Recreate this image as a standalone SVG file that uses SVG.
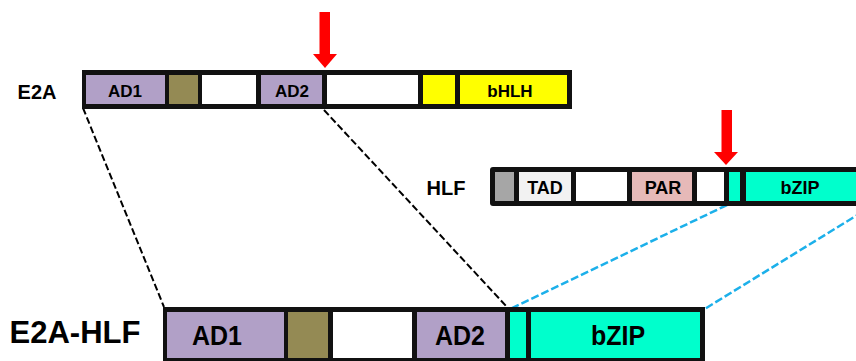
<svg xmlns="http://www.w3.org/2000/svg" width="856" height="361" viewBox="0 0 856 361">
<style>
.bar{fill:#111}
.pur{fill:#b1a0c7}.olv{fill:#948a54}.wht{fill:#fff}.yel{fill:#ffff00}
.gry{fill:#a6a6a6}.lgr{fill:#f2f2f2}.pnk{fill:#e6b9b8}.cyn{fill:#00ffcc}
text{font-family:"Liberation Sans",Arial,sans-serif;font-weight:bold;fill:#000;text-anchor:middle}
.t17{font-size:17px}.t18{font-size:18px}.t20{font-size:20px}.t25{font-size:25px}
.dk{stroke:#000;stroke-width:2;stroke-dasharray:7 3;fill:none}
.bl{stroke:#1cb0ea;stroke-width:2.5;stroke-dasharray:8 3;fill:none}
.arr{fill:#ff0000}
</style>
<g id="connectors">
<line class="dk" x1="83" y1="108" x2="164" y2="307"/>
<line class="dk" x1="324" y1="110" x2="507" y2="307"/>
<line class="bl" x1="727" y1="205" x2="508" y2="310"/>
<line class="bl" x1="872" y1="206" x2="703" y2="310"/>
</g>
<g id="E2A">
<text class="t20" x="37" y="99">E2A</text>
<rect class="bar" x="82" y="70" width="490" height="39"/>
<rect class="pur" x="86" y="75" width="79" height="29"/>
<rect class="olv" x="169" y="75" width="29" height="29"/>
<rect class="wht" x="202" y="75" width="54" height="29"/>
<rect class="pur" x="261" y="75" width="61" height="29"/>
<rect class="wht" x="327" y="75" width="91" height="29"/>
<rect class="yel" x="423" y="75" width="32" height="29"/>
<rect class="yel" x="460" y="75" width="107" height="29"/>
<text class="t17" x="125" y="97">AD1</text>
<text class="t17" x="292" y="97">AD2</text>
<text class="t17" x="510" y="97">bHLH</text>
</g>
<g id="arrow1">
<rect class="arr" x="319.5" y="12" width="10.5" height="43"/>
<polygon class="arr" points="313,54 337,54 325,68"/>
</g>
<g id="HLF">
<text class="t20" x="446" y="195">HLF</text>
<rect class="bar" x="490" y="167" width="380" height="39" rx="3"/>
<rect class="gry" x="495" y="172" width="19" height="29"/>
<rect class="lgr" x="519" y="172" width="52" height="29"/>
<rect class="wht" x="576" y="172" width="51" height="29"/>
<rect class="pnk" x="632" y="172" width="60" height="29"/>
<rect class="wht" x="697" y="172" width="27" height="29"/>
<rect class="cyn" x="729" y="172" width="11" height="29"/>
<rect class="cyn" x="746" y="172" width="120" height="29"/>
<text class="t18" x="545" y="194">TAD</text>
<text class="t18" x="663" y="194">PAR</text>
<text class="t18" x="800" y="194">bZIP</text>
</g>
<g id="arrow2">
<rect class="arr" x="721.5" y="110" width="10.5" height="43"/>
<polygon class="arr" points="714,152 738,152 726,165"/>
</g>
<g id="E2A-HLF">
<text x="75" y="343" style="font-size:31px">E2A-HLF</text>
<rect class="bar" x="163" y="307" width="542" height="56"/>
<rect class="pur" x="167" y="312" width="117" height="46"/>
<rect class="olv" x="288" y="312" width="40" height="46"/>
<rect class="wht" x="333" y="312" width="79" height="46"/>
<rect class="pur" x="417" y="312" width="88" height="46"/>
<rect class="cyn" x="510" y="312" width="16" height="46"/>
<rect class="cyn" x="531" y="312" width="169" height="46"/>
<text class="t25" transform="translate(217,345) scale(1,1.12)">AD1</text>
<text class="t25" transform="translate(460,345) scale(1,1.12)">AD2</text>
<text class="t25" transform="translate(618,345) scale(1,1.1)">bZIP</text>
</g>
</svg>
